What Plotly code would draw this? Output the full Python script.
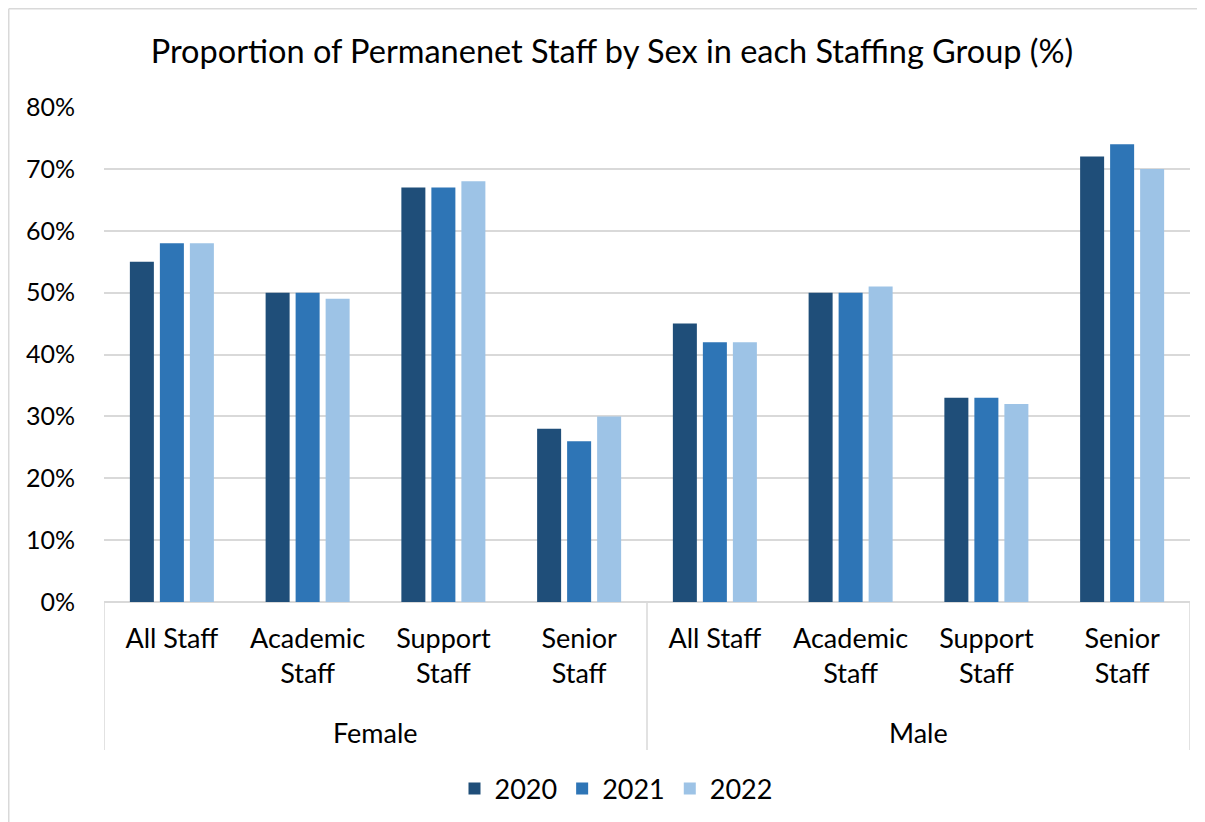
import plotly.graph_objects as go

sexes = ["Female", "Male"]
groups = ["All Staff", "Academic<br>Staff", "Support<br>Staff", "Senior<br>Staff"]
years = ["2020", "2021", "2022"]
colors = ["#1F4E79", "#2E75B6", "#9DC3E6"]
values = {
    "2020": [55, 50, 67, 28, 45, 50, 33, 72],
    "2021": [58, 50, 67, 26, 42, 50, 33, 74],
    "2022": [58, 49, 68, 30, 42, 51, 32, 70],
}
y_ticks = [0, 10, 20, 30, 40, 50, 60, 70, 80]

FONT = "Lato"
OFF = 8  # page body margin
PAGE_W, PAGE_H = 1205, 822
W, H = PAGE_W - OFF, PAGE_H - OFF
L, T = 104 - OFF, 107 - OFF
R = W - (1190 - OFF)
B = H - (602 - OFF)
pw, ph = W - L - R, H - T - B
axis_y = 602 - OFF


def py2paper(py_page):
    return (axis_y - (py_page - OFF)) / ph


xpos = list(range(len(sexes) * len(groups)))
tick_text = groups * len(sexes)

fig = go.Figure()
for yr, c in zip(years, colors):
    fig.add_trace(go.Bar(x=xpos, y=values[yr], name=yr, marker_color=c,
                         marker_line_width=0))

shapes = []
for xv in [-0.5, 3.5, 7.5]:
    shapes.append(dict(type="line", xref="x", yref="paper", x0=xv, x1=xv,
                       y0=0, y1=py2paper(750), line=dict(color="#D9D9D9", width=1.5)))
# outer chart border (top and left edges visible)
bx0 = (0.75 - L) / pw
by1 = (axis_y - 0.75) / ph
shapes.append(dict(type="line", xref="paper", yref="paper",
                   x0=bx0, x1=(W + 5 - L) / pw, y0=by1, y1=by1,
                   line=dict(color="#D9D9D9", width=1.5)))
shapes.append(dict(type="line", xref="paper", yref="paper",
                   x0=bx0, x1=bx0, y0=by1, y1=-(B + 5) / ph,
                   line=dict(color="#D9D9D9", width=1.5)))

annotations = []
for i, s in enumerate(sexes):
    annotations.append(dict(text=s, xref="x", yref="paper",
                            x=i * len(groups) + (len(groups) - 1) / 2,
                            y=py2paper(732), showarrow=False,
                            xanchor="center", yanchor="middle",
                            font=dict(family=FONT, size=27, color="#000000")))

fig.update_layout(
    width=W, height=H,
    margin=dict(l=L, r=R, t=T, b=B),
    paper_bgcolor="white", plot_bgcolor="white",
    barmode="group", bargap=0.337, bargroupgap=0.2,
    title=dict(text="Proportion of Permanenet Staff by Sex in each Staffing Group (%)",
               xref="paper", x=(612 - 104) / pw, xanchor="center",
               y=1 - (52 - OFF) / H, yanchor="middle",
               font=dict(family=FONT, size=32.5, color="#000000")),
    xaxis=dict(range=[-0.5, 7.5], tickmode="array", tickvals=xpos, ticktext=tick_text,
               showgrid=False, zeroline=False, showline=False, ticks="",
               tickfont=dict(family=FONT, size=27, color="#000000"),
               ticklabelstandoff=18),
    yaxis=dict(range=[0, 80], tickvals=y_ticks, ticktext=[f"{v}%" for v in y_ticks],
               showgrid=True, gridcolor="#D9D9D9", gridwidth=1.5,
               zeroline=True, zerolinecolor="#D9D9D9", zerolinewidth=1.5,
               showline=False, ticks="", ticklabelstandoff=28,
               tickfont=dict(family=FONT, size=25, color="#000000")),
    legend=dict(orientation="h", xref="paper", yref="container",
                x=(616 - 104) / pw, xanchor="center", y=1 - (789 - OFF) / H, yanchor="middle",
                font=dict(family=FONT, size=27, color="#000000"),
                itemwidth=30, traceorder="normal"),
    shapes=shapes, annotations=annotations,
)
fig.write_html("out.html")
